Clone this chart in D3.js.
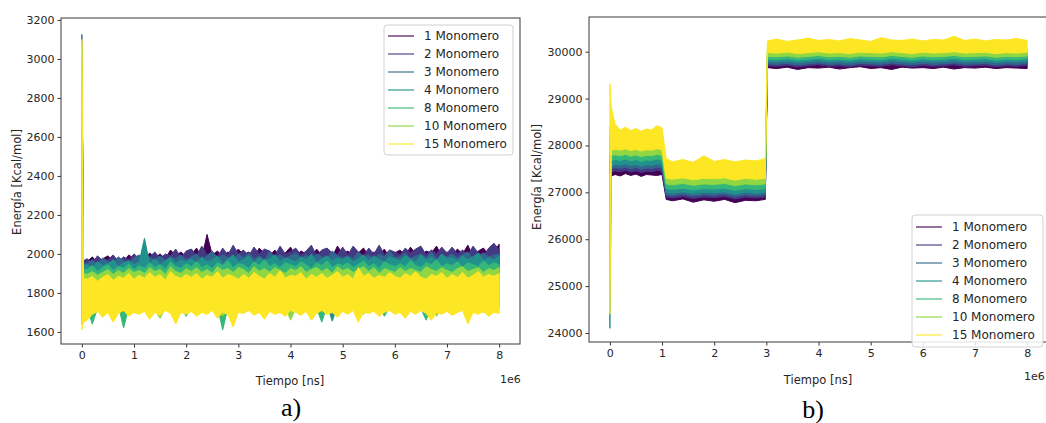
<!DOCTYPE html>
<html>
<head>
<meta charset="utf-8">
<script src="https://cdn.jsdelivr.net/npm/d3@7"></script>
<style>
  body { margin: 0; background: #fff; }
  svg { display: block; font-family: "DejaVu Sans", sans-serif; }
</style>
</head>
<body>
<svg id="chart" width="1046" height="423"></svg>
<script>
// ---- series and axes -------------------------------------------------------
const seriesNames = ["1 Monomero", "2 Monomero", "3 Monomero", "4 Monomero",
                     "8 Monomero", "10 Monomero", "15 Monomero"];
const seriesColors = ["#440154", "#443983", "#31688e", "#21918c",
                      "#35b779", "#90d743", "#fde725"];
const timeTicks = [0, 1, 2, 3, 4, 5, 6, 7, 8];          // x 1e6 ns
const energyTicksA = [1600, 1800, 2000, 2200, 2400, 2600, 2800, 3000, 3200];
const energyTicksB = [24000, 25000, 26000, 27000, 28000, 29000, 30000];

// ---- panel a: energy envelope (upper / lower) of each run, time in 1e6 ns --
const timeA = [0, 0.03,
  0.1, 0.2, 0.3, 0.4, 0.5, 0.6, 0.7, 0.8, 0.9, 1.0,
  1.1, 1.2, 1.3, 1.4, 1.5, 1.6, 1.7, 1.8, 1.9, 2.0,
  2.1, 2.2, 2.3, 2.4, 2.5, 2.6, 2.7, 2.8, 2.9, 3.0,
  3.1, 3.2, 3.3, 3.4, 3.5, 3.6, 3.7, 3.8, 3.9, 4.0,
  4.1, 4.2, 4.3, 4.4, 4.5, 4.6, 4.7, 4.8, 4.9, 5.0,
  5.1, 5.2, 5.3, 5.4, 5.5, 5.6, 5.7, 5.8, 5.9, 6.0,
  6.1, 6.2, 6.3, 6.4, 6.5, 6.6, 6.7, 6.8, 6.9, 7.0,
  7.1, 7.2, 7.3, 7.4, 7.5, 7.6, 7.7, 7.8, 7.9, 8.0];

const a1Hi = [3050, 1960,
  1960, 1985, 1955, 1975, 1990, 1965, 1980, 1960, 1995, 1975,
  1990, 1970, 2005, 1980, 2000, 1975, 2020, 1990, 2010, 1985,
  2000, 2030, 1980, 2100, 1995, 2015, 1985, 2010, 1990, 2025,
  1995, 2010, 1980, 2030, 2000, 1990, 2020, 1985, 2005, 2035,
  1990, 2015, 2000, 1980, 2025, 1995, 2010, 1985, 2040, 2000,
  2015, 1985, 2005, 2030, 1990, 2010, 1995, 2025, 1980, 2005,
  2020, 1990, 2035, 2000, 1985, 2015, 2005, 2040, 1990, 2010,
  1995, 2025, 2000, 2045, 1985, 2015, 2030, 1995, 2010, 2050];
const a1Lo = [1700, 1760,
  1765, 1755, 1770, 1760, 1775, 1755, 1765, 1770, 1760, 1775,
  1760, 1770, 1765, 1775, 1755, 1770, 1765, 1760, 1775, 1765,
  1770, 1760, 1775, 1765, 1755, 1770, 1765, 1775, 1760, 1770,
  1765, 1775, 1760, 1770, 1765, 1755, 1775, 1765, 1770, 1760,
  1775, 1765, 1755, 1770, 1765, 1775, 1760, 1770, 1765, 1755,
  1770, 1760, 1775, 1765, 1770, 1760, 1775, 1770, 1765, 1775,
  1760, 1770, 1765, 1775, 1760, 1770, 1765, 1755, 1775, 1765,
  1770, 1760, 1775, 1765, 1770, 1760, 1775, 1765, 1760, 1770];
const a2Hi = [3040, 1965,
  1975, 1955, 1990, 1965, 1970, 1995, 1960, 1985, 1970, 2000,
  1975, 2005, 1985, 2010, 1975, 2000, 1990, 2025, 1980, 2015,
  2025, 1990, 2040, 1995, 2010, 1985, 2030, 1995, 2045, 2000,
  2020, 1990, 2035, 2000, 2025, 2015, 1990, 2040, 2000, 2010,
  2030, 1995, 2015, 2045, 1990, 2020, 2030, 2005, 1995, 2035,
  1995, 2040, 2010, 1990, 2030, 2000, 2045, 1995, 2020, 2010,
  1995, 2030, 2005, 2025, 2040, 1995, 2020, 2000, 2035, 2005,
  2035, 2000, 2020, 1995, 2040, 2005, 1990, 2030, 2055, 2020];
const a2Lo = [1700, 1750,
  1755, 1745, 1760, 1750, 1765, 1745, 1755, 1760, 1750, 1765,
  1750, 1760, 1755, 1765, 1745, 1760, 1755, 1750, 1765, 1755,
  1760, 1750, 1765, 1755, 1745, 1760, 1755, 1765, 1750, 1760,
  1755, 1765, 1750, 1760, 1755, 1745, 1765, 1755, 1760, 1750,
  1765, 1755, 1745, 1760, 1705, 1765, 1750, 1760, 1755, 1745,
  1760, 1750, 1765, 1755, 1760, 1750, 1765, 1760, 1755, 1765,
  1750, 1760, 1755, 1765, 1750, 1760, 1755, 1745, 1765, 1755,
  1760, 1750, 1765, 1755, 1760, 1750, 1765, 1755, 1750, 1760];
const a3Hi = [3125, 1950,
  1950, 1970, 1945, 1980, 1960, 1955, 1985, 1965, 1950, 1980,
  1995, 1960, 1980, 1970, 1990, 1965, 1985, 1975, 1995, 1970,
  1985, 2000, 1970, 1990, 2015, 1975, 1995, 1980, 1970, 2000,
  1980, 2005, 1975, 1990, 1970, 2010, 1985, 1995, 1975, 1990,
  2005, 1980, 1995, 1970, 2000, 1985, 1975, 2015, 1990, 1980,
  1990, 1975, 2010, 1985, 1995, 1970, 2000, 1985, 2015, 1980,
  1985, 2005, 1975, 1990, 2000, 1980, 2010, 1975, 1995, 1985,
  2000, 1980, 1995, 2010, 1975, 1990, 2005, 1985, 1995, 2000];
const a3Lo = [1680, 1740,
  1745, 1735, 1750, 1740, 1755, 1735, 1745, 1750, 1740, 1755,
  1740, 1750, 1745, 1755, 1735, 1750, 1745, 1740, 1755, 1745,
  1750, 1740, 1755, 1745, 1735, 1750, 1745, 1755, 1740, 1750,
  1745, 1755, 1740, 1750, 1745, 1735, 1755, 1745, 1750, 1740,
  1755, 1745, 1735, 1750, 1745, 1755, 1740, 1750, 1745, 1735,
  1750, 1740, 1755, 1745, 1750, 1740, 1700, 1750, 1745, 1755,
  1740, 1750, 1745, 1755, 1740, 1750, 1745, 1735, 1755, 1745,
  1750, 1740, 1755, 1745, 1750, 1740, 1755, 1745, 1740, 1750];
const a4Hi = [3060, 1940,
  1945, 1930, 1960, 1940, 1950, 1970, 1935, 1955, 1965, 1945,
  1960, 2080, 1950, 1975, 1945, 1965, 1980, 1950, 1970, 1960,
  1975, 1955, 1985, 1960, 1970, 1990, 1950, 1975, 1995, 1960,
  1970, 1990, 1955, 1980, 1965, 1975, 1995, 1960, 1980, 1970,
  1960, 1985, 1970, 2000, 1955, 1975, 1990, 1965, 1980, 1970,
  1985, 1960, 1975, 1995, 1965, 1990, 1970, 1960, 1985, 1975,
  1965, 1990, 1975, 1960, 1995, 1970, 1985, 1965, 2000, 1975,
  1980, 1965, 1990, 1970, 1985, 2005, 1965, 1980, 1970, 1990];
const a4Lo = [1650, 1730,
  1735, 1725, 1740, 1680, 1730, 1745, 1725, 1735, 1740, 1730,
  1740, 1730, 1745, 1725, 1735, 1740, 1700, 1745, 1730, 1740,
  1735, 1745, 1730, 1740, 1725, 1745, 1735, 1740, 1730, 1745,
  1740, 1730, 1690, 1745, 1735, 1740, 1730, 1745, 1735, 1740,
  1745, 1730, 1740, 1735, 1745, 1725, 1740, 1655, 1735, 1745,
  1730, 1740, 1745, 1735, 1725, 1740, 1745, 1730, 1740, 1735,
  1740, 1745, 1730, 1735, 1745, 1740, 1725, 1745, 1700, 1740,
  1735, 1745, 1730, 1740, 1735, 1745, 1730, 1740, 1745, 1735];
const a8Hi = [3050, 1920,
  1920, 1940, 1910, 1930, 1945, 1915, 1935, 1925, 1950, 1920,
  1940, 1925, 1955, 1930, 1945, 1920, 1960, 1935, 1925, 1950,
  1935, 1960, 1930, 1945, 1925, 1955, 1940, 1965, 1930, 1950,
  1945, 1925, 1960, 1940, 1970, 1935, 1950, 1930, 1955, 1945,
  1935, 1960, 1945, 1925, 1955, 1940, 1965, 1930, 1950, 1940,
  1955, 1930, 1945, 1965, 1935, 1950, 1925, 1960, 1945, 1935,
  1950, 1935, 1965, 1940, 1930, 1955, 1945, 1970, 1935, 1950,
  1940, 1960, 1930, 1955, 1945, 1935, 1965, 1940, 1955, 1945];
const a8Lo = [1640, 1720,
  1725, 1640, 1720, 1730, 1710, 1725, 1735, 1620, 1725, 1715,
  1730, 1720, 1735, 1700, 1725, 1730, 1715, 1735, 1725, 1680,
  1730, 1720, 1735, 1725, 1715, 1730, 1610, 1725, 1735, 1720,
  1730, 1715, 1725, 1735, 1690, 1730, 1720, 1735, 1725, 1715,
  1735, 1725, 1715, 1730, 1720, 1650, 1730, 1725, 1735, 1715,
  1725, 1735, 1720, 1730, 1715, 1725, 1735, 1680, 1725, 1730,
  1715, 1735, 1725, 1730, 1720, 1660, 1730, 1725, 1735, 1720,
  1730, 1720, 1735, 1690, 1725, 1730, 1715, 1735, 1725, 1730];
const a10Hi = [3070, 1900,
  1895, 1910, 1890, 1905, 1920, 1895, 1915, 1900, 1925, 1905,
  1915, 1900, 1930, 1910, 1920, 1895, 1935, 1910, 1900, 1925,
  1910, 1930, 1905, 1920, 1900, 1935, 1915, 1925, 1905, 1930,
  1920, 1900, 1935, 1910, 1925, 1905, 1930, 1915, 1900, 1925,
  1915, 1935, 1905, 1920, 1930, 1910, 1925, 1900, 1935, 1915,
  1925, 1905, 1920, 1935, 1910, 1930, 1900, 1925, 1915, 1905,
  1930, 1910, 1925, 1915, 1905, 1935, 1920, 1910, 1930, 1915,
  1905, 1925, 1935, 1910, 1920, 1930, 1905, 1925, 1915, 1930];
const a10Lo = [1650, 1710,
  1720, 1705, 1725, 1690, 1715, 1730, 1710, 1725, 1700, 1720,
  1730, 1715, 1725, 1710, 1670, 1720, 1730, 1715, 1725, 1705,
  1720, 1730, 1710, 1725, 1715, 1730, 1680, 1720, 1730, 1715,
  1725, 1710, 1720, 1730, 1715, 1725, 1705, 1720, 1730, 1660,
  1720, 1730, 1715, 1725, 1710, 1720, 1730, 1700, 1725, 1715,
  1730, 1715, 1720, 1690, 1725, 1730, 1710, 1720, 1725, 1715,
  1720, 1730, 1705, 1725, 1715, 1730, 1720, 1680, 1725, 1715,
  1730, 1715, 1725, 1710, 1720, 1730, 1700, 1725, 1715, 1720];
const a15Hi = [3100, 1875,
  1870, 1885, 1860, 1880, 1895, 1865, 1885, 1875, 1900, 1870,
  1890, 1875, 1905, 1880, 1895, 1865, 1910, 1885, 1875, 1895,
  1880, 1900, 1870, 1890, 1880, 1910, 1875, 1895, 1885, 1870,
  1895, 1875, 1905, 1885, 1870, 1900, 1880, 1915, 1875, 1890,
  1885, 1905, 1870, 1895, 1880, 1900, 1875, 1890, 1910, 1880,
  1895, 1870, 1930, 1885, 1900, 1875, 1890, 1880, 1905, 1885,
  1875, 1900, 1885, 1910, 1880, 1870, 1895, 1885, 1905, 1875,
  1895, 1880, 1905, 1875, 1890, 1910, 1880, 1895, 1885, 1900];
const a15Lo = [1610, 1650,
  1660, 1690, 1705, 1675, 1700, 1650, 1695, 1710, 1680, 1700,
  1690, 1705, 1665, 1700, 1685, 1710, 1695, 1640, 1700, 1690,
  1705, 1680, 1700, 1690, 1710, 1670, 1700, 1690, 1625, 1700,
  1695, 1710, 1685, 1700, 1665, 1705, 1690, 1700, 1680, 1710,
  1700, 1685, 1705, 1660, 1695, 1710, 1690, 1700, 1675, 1705,
  1690, 1710, 1650, 1700, 1695, 1705, 1680, 1700, 1710, 1690,
  1700, 1670, 1705, 1690, 1710, 1695, 1660, 1700, 1690, 1705,
  1685, 1700, 1710, 1640, 1700, 1690, 1705, 1680, 1700, 1695];

// ---- panel b: energy envelope of each run, time in 1e6 ns ------------------
const timeB = [0, 0.03, 0.1, 0.2, 0.3, 0.4, 0.5, 0.6, 0.7, 0.8, 0.9, 1.0,
  1.08, 1.2, 1.4, 1.6, 1.8, 2.0, 2.2, 2.4, 2.6, 2.8, 2.98,
  3.02, 3.2, 3.4, 3.6, 3.8, 4.0, 4.2, 4.4, 4.6, 4.8, 5.0, 5.2, 5.4, 5.6,
  5.8, 6.0, 6.2, 6.4, 6.6, 6.8, 7.0, 7.2, 7.4, 7.6, 7.8, 8.0];

const b1Hi = [27700, 27720, 27680, 27640, 27660, 27620, 27670, 27630, 27650, 27610, 27660, 27640,
  27020, 26990, 27010, 26980, 27020, 26995, 27010, 26985, 27015, 27000, 27010,
  29790, 29810, 29780, 29800, 29790, 29820, 29780, 29800, 29810, 29785, 29800, 29820, 29790, 29805,
  29780, 29810, 29795, 29820, 29785, 29800, 29810, 29790, 29815, 29795, 29805, 29790];
const b1Lo = [27400, 27350, 27380, 27350, 27400, 27360, 27390, 27340, 27380, 27370, 27360, 27380,
  26850, 26820, 26860, 26790, 26840, 26810, 26850, 26780, 26830, 26820, 26850,
  29660, 29640, 29670, 29620, 29660, 29650, 29670, 29630, 29660, 29680, 29640, 29660, 29620, 29670,
  29650, 29660, 29640, 29670, 29630, 29660, 29650, 29670, 29640, 29660, 29650, 29640];
const b2Hi = [27800, 27780, 27740, 27710, 27740, 27700, 27730, 27690, 27720, 27700, 27740, 27720,
  27090, 27060, 27080, 27050, 27090, 27070, 27085, 27060, 27080, 27070, 27080,
  29840, 29860, 29830, 29850, 29840, 29870, 29830, 29850, 29860, 29835, 29850, 29870, 29840, 29855,
  29830, 29860, 29845, 29870, 29835, 29850, 29860, 29840, 29865, 29845, 29855, 29840];
const b2Lo = [27450, 27430, 27460, 27440, 27470, 27430, 27460, 27420, 27450, 27440, 27470, 27450,
  26900, 26880, 26910, 26870, 26900, 26890, 26910, 26860, 26900, 26880, 26900,
  29700, 29690, 29710, 29680, 29700, 29720, 29690, 29700, 29680, 29710, 29700, 29690, 29720, 29700,
  29680, 29710, 29690, 29700, 29720, 29690, 29700, 29710, 29680, 29700, 29690, 29710];
const b3Hi = [27900, 27860, 27820, 27790, 27820, 27780, 27810, 27770, 27800, 27790, 27820, 27800,
  27160, 27130, 27160, 27120, 27150, 27140, 27165, 27130, 27150, 27140, 27150,
  29890, 29910, 29880, 29900, 29890, 29920, 29880, 29900, 29910, 29885, 29900, 29920, 29890, 29905,
  29880, 29910, 29895, 29920, 29885, 29900, 29910, 29890, 29915, 29895, 29905, 29890];
const b3Lo = [27520, 27500, 27530, 27510, 27540, 27500, 27530, 27490, 27520, 27510, 27540, 27520,
  26950, 26930, 26960, 26920, 26950, 26940, 26960, 26910, 26950, 26930, 26950,
  29740, 29730, 29750, 29720, 29740, 29760, 29730, 29740, 29720, 29750, 29740, 29730, 29760, 29740,
  29720, 29750, 29730, 29740, 29760, 29730, 29740, 29750, 29720, 29740, 29730, 29750];
const b4Hi = [28000, 27960, 27920, 27890, 27920, 27880, 27910, 27870, 27900, 27890, 27920, 27900,
  27260, 27230, 27260, 27220, 27250, 27240, 27265, 27230, 27250, 27240, 27250,
  29940, 29960, 29930, 29950, 29940, 29970, 29930, 29950, 29960, 29935, 29950, 29970, 29940, 29955,
  29930, 29960, 29945, 29970, 29935, 29950, 29960, 29940, 29965, 29945, 29955, 29940];
const b4Lo = [24100, 27560, 27600, 27580, 27610, 27570, 27600, 27560, 27590, 27580, 27610, 27590,
  27000, 26980, 27010, 26970, 27000, 26990, 27010, 26960, 27000, 26980, 27000,
  29790, 29780, 29800, 29770, 29790, 29810, 29780, 29790, 29770, 29800, 29790, 29780, 29810, 29790,
  29770, 29800, 29780, 29790, 29810, 29780, 29790, 29800, 29770, 29790, 29780, 29800];
const b8Hi = [28150, 28080, 28030, 27990, 28020, 27980, 28010, 27970, 28000, 27990, 28020, 28000,
  27370, 27330, 27360, 27320, 27350, 27340, 27365, 27330, 27350, 27340, 27350,
  29990, 30010, 29980, 30000, 29990, 30020, 29980, 30000, 30010, 29985, 30000, 30020, 29990, 30005,
  29980, 30010, 29995, 30020, 29985, 30000, 30010, 29990, 30015, 29995, 30005, 29990];
const b8Lo = [27700, 27680, 27700, 27680, 27710, 27670, 27700, 27660, 27690, 27680, 27710, 27690,
  27080, 27060, 27090, 27050, 27080, 27070, 27090, 27040, 27080, 27060, 27080,
  29840, 29830, 29850, 29820, 29840, 29860, 29830, 29840, 29820, 29850, 29840, 29830, 29860, 29840,
  29820, 29850, 29830, 29840, 29860, 29830, 29840, 29850, 29820, 29840, 29830, 29850];
const b10Hi = [28400, 28250, 28180, 28140, 28170, 28130, 28160, 28120, 28150, 28140, 28170, 28150,
  27500, 27460, 27490, 27450, 27480, 27470, 27495, 27460, 27480, 27470, 27480,
  30070, 30090, 30060, 30080, 30070, 30100, 30060, 30080, 30090, 30065, 30080, 30100, 30070, 30085,
  30060, 30090, 30075, 30100, 30065, 30080, 30090, 30070, 30095, 30075, 30085, 30070];
const b10Lo = [27800, 27790, 27800, 27780, 27810, 27770, 27800, 27760, 27790, 27780, 27810, 27790,
  27180, 27160, 27190, 27150, 27180, 27170, 27190, 27140, 27180, 27160, 27180,
  29900, 29890, 29910, 29880, 29900, 29920, 29890, 29900, 29880, 29910, 29900, 29890, 29920, 29900,
  29880, 29910, 29890, 29900, 29920, 29890, 29900, 29910, 29880, 29900, 29890, 29910];
const b15Hi = [29320, 28800, 28450, 28330, 28390, 28320, 28360, 28300, 28350, 28330, 28420, 28380,
  27720, 27650, 27700, 27640, 27780, 27660, 27700, 27650, 27690, 27670, 27720,
  30230, 30270, 30220, 30250, 30290, 30240, 30260, 30230, 30280, 30250, 30220, 30300, 30250, 30240,
  30270, 30230, 30260, 30250, 30330, 30240, 30270, 30230, 30260, 30250, 30280, 30240];
const b15Lo = [24400, 27900, 27920, 27900, 27930, 27890, 27920, 27880, 27910, 27900, 27930, 27910,
  27300, 27280, 27310, 27270, 27300, 27290, 27310, 27260, 27300, 27280, 27300,
  29980, 29970, 29990, 29960, 29980, 30000, 29970, 29980, 29960, 29990, 29980, 29970, 30000, 29980,
  29960, 29990, 29970, 29980, 30000, 29970, 29980, 29990, 29960, 29980, 29970, 29990];

const upperA = [a1Hi, a2Hi, a3Hi, a4Hi, a8Hi, a10Hi, a15Hi];
const lowerA = [a1Lo, a2Lo, a3Lo, a4Lo, a8Lo, a10Lo, a15Lo];
const upperB = [b1Hi, b2Hi, b3Hi, b4Hi, b8Hi, b10Hi, b15Hi];
const lowerB = [b1Lo, b2Lo, b3Lo, b4Lo, b8Lo, b10Lo, b15Lo];

// ---- drawing ---------------------------------------------------------------
const svg = d3.select("#chart");
svg.append("rect").attr("width", 1046).attr("height", 423).attr("fill", "#fff");

function drawPanel(p) {
  const x = d3.scaleLinear().domain([-0.4, 8.4]).range([p.left, p.right]);
  const y = d3.scaleLinear().domain(p.yDomain).range([p.bottom, p.top]);
  const g = svg.append("g");

  const clipId = "clip-" + p.id;
  svg.append("clipPath").attr("id", clipId)
    .append("rect")
    .attr("x", p.left).attr("y", p.top)
    .attr("width", p.right - p.left).attr("height", p.bottom - p.top);

  // one filled band per run, drawn in legend order so later runs lie on top
  const data = g.append("g").attr("clip-path", `url(#${clipId})`);
  seriesNames.forEach((name, k) => {
    const hi = p.upper[k], lo = p.lower[k];
    const area = d3.area()
      .x(i => x(p.time[i]))
      .y0(i => y(lo[i]))
      .y1(i => y(hi[i]));
    data.append("path")
      .attr("d", area(d3.range(p.time.length)))
      .attr("fill", seriesColors[k])
      .attr("stroke", seriesColors[k])
      .attr("stroke-width", 1)
      .attr("stroke-linejoin", "miter");
  });

  // axes
  const yAxis = d3.axisLeft(y).tickValues(p.yTicks).tickSize(3.5).tickPadding(3)
    .tickFormat(d3.format("d"));
  const xAxis = d3.axisBottom(x).tickValues(timeTicks).tickSize(3.5).tickPadding(4)
    .tickFormat(d3.format("d"));
  const ya = g.append("g").attr("transform", `translate(${p.left},0)`).call(yAxis);
  const xa = g.append("g").attr("transform", `translate(0,${p.bottom})`).call(xAxis);
  [ya, xa].forEach(a => {
    a.select(".domain").remove();
    a.selectAll("line").attr("stroke", "#333").attr("stroke-width", 1);
    a.selectAll("text").attr("fill", "#262626")
      .style("font-family", "'DejaVu Sans', sans-serif").style("font-size", "11px");
  });

  // frame
  g.append("rect")
    .attr("x", p.left).attr("y", p.top)
    .attr("width", p.right - p.left).attr("height", p.bottom - p.top)
    .attr("fill", "none").attr("stroke", "#4a4a4a").attr("stroke-width", 1.1);

  // titles
  g.append("text")
    .attr("transform", `translate(${p.yLabel[0]},${p.yLabel[1]}) rotate(-90)`)
    .attr("text-anchor", "middle").attr("dy", "0.35em")
    .attr("fill", "#262626").style("font-size", "11.5px")
    .text("Energía [Kcal/mol]");
  g.append("text")
    .attr("x", p.xLabel[0]).attr("y", p.xLabel[1])
    .attr("text-anchor", "middle").attr("dy", "0.35em")
    .attr("fill", "#262626").style("font-size", "11.5px")
    .text("Tiempo [ns]");
  g.append("text")
    .attr("x", p.offset[0]).attr("y", p.offset[1])
    .attr("dy", "0.35em")
    .attr("fill", "#262626").style("font-size", "11px")
    .text("1e6");
  g.append("text")
    .attr("x", p.letter[0]).attr("y", p.letter[1])
    .attr("text-anchor", "middle")
    .attr("fill", "#000")
    .style("font-family", "'Liberation Serif', 'Times New Roman', serif")
    .style("font-size", "26px")
    .text(p.letterText);

  // legend
  const lg = g.append("g");
  lg.append("rect")
    .attr("x", p.legend.x).attr("y", p.legend.y)
    .attr("width", p.legend.w).attr("height", p.legend.h)
    .attr("rx", 3)
    .attr("fill", "#fff").attr("fill-opacity", 0.85)
    .attr("stroke", "#d0d0d0").attr("stroke-width", 1);
  seriesNames.forEach((name, k) => {
    const ry = p.legend.row0 + 18 * k;
    lg.append("line")
      .attr("x1", p.legend.x + 4).attr("x2", p.legend.x + 30)
      .attr("y1", ry).attr("y2", ry)
      .attr("stroke", seriesColors[k]).attr("stroke-width", 1.5)
      .attr("stroke-opacity", 0.75);
    lg.append("text")
      .attr("x", p.legend.x + 40).attr("y", ry).attr("dy", "0.35em")
      .attr("fill", "#262626").style("font-size", "12px")
      .text(name);
  });
}

drawPanel({
  id: "a", left: 61, right: 520, top: 18, bottom: 344,
  yDomain: [1538, 3210], yTicks: energyTicksA,
  time: timeA, upper: upperA, lower: lowerA,
  yLabel: [17, 182], xLabel: [290, 381], offset: [500, 379],
  letter: [291, 416], letterText: "a)",
  legend: { x: 384, y: 25, w: 129, h: 130, row0: 36 }
});

drawPanel({
  id: "b", left: 589, right: 1048, top: 17, bottom: 342,
  yDomain: [23808, 30740], yTicks: energyTicksB,
  time: timeB, upper: upperB, lower: lowerB,
  yLabel: [537, 177], xLabel: [818, 380], offset: [1024, 376],
  letter: [813, 418], letterText: "b)",
  legend: { x: 912, y: 215, w: 131, h: 132, row0: 227 }
});
</script>
</body>
</html>
